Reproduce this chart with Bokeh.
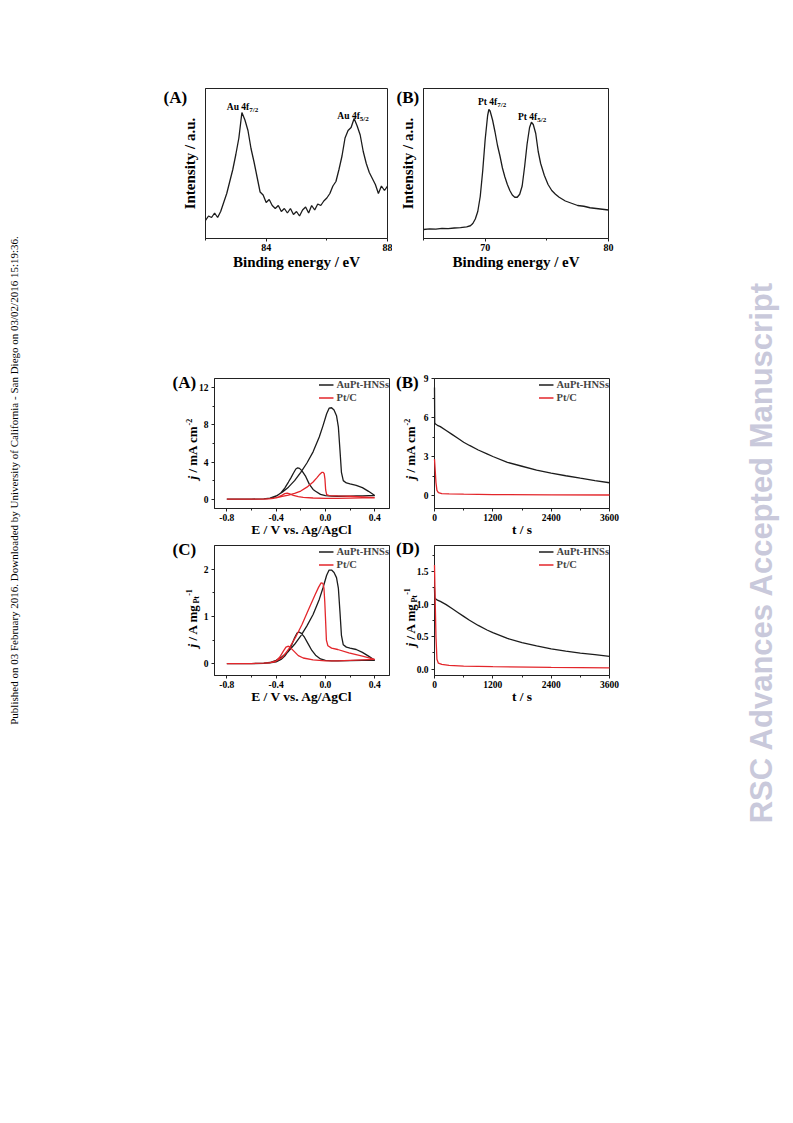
import numpy as np
from bokeh.plotting import figure
from bokeh.models import FixedTicker, Label, Legend, LegendItem, Spacer, Range1d, GridBox
from bokeh.layouts import row, column
from bokeh.embed import file_html
from bokeh.resources import INLINE

# ---------------- data ----------------
# XPS Au 4f (binding energy in eV, intensity a.u.)
au_be = [round(82.0 + 0.1 * i, 1) for i in range(61)]
au_int = [12, 15, 14, 17, 14, 18, 24, 30, 38, 46,
          56, 67, 84, 79, 72, 60, 51, 41, 31, 29,
          24, 26, 22, 20, 22, 18, 20, 17, 20, 16,
          18, 15, 19, 21, 17, 22, 19, 23, 22, 25,
          27, 30, 35, 38, 46, 55, 67, 72, 74, 80,
          75, 69, 58, 50, 44, 40, 36, 30, 35, 32,
          35]
# XPS Pt 4f
pt_be = [65.0, 65.5, 66.0, 66.5, 67.0, 67.5, 68.0, 68.5, 68.8, 69.0, 69.2, 69.4, 69.6, 69.8,
         70.0, 70.2, 70.3, 70.4, 70.6, 70.8, 71.0, 71.2, 71.4, 71.6, 71.8, 72.0, 72.2, 72.4,
         72.6, 72.8, 73.0, 73.2, 73.4, 73.6, 73.75, 73.9, 74.1, 74.3, 74.5, 74.8, 75.1, 75.4,
         75.7, 76.0, 76.5, 77.0, 77.5, 78.0, 78.5, 79.0, 79.5, 80.0]
pt_int = [6.0, 6.4, 6.2, 6.8, 6.6, 7.0, 7.3, 7.8, 8.5, 10.0, 13.0, 18.0, 28.0, 45.0,
          66.0, 82.0, 86.0, 85.0, 79.0, 71.0, 62.0, 55.0, 47.0, 41.0, 36.0, 32.0, 29.0, 27.5,
          27.5, 29.5, 35.0, 48.0, 63.0, 74.0, 77.5, 76.0, 70.0, 58.0, 50.0, 42.0, 36.0, 32.0,
          29.5, 27.5, 25.0, 23.5, 22.0, 21.5, 20.5, 20.0, 19.5, 19.0]

# CV, current density (mA cm-2)
cva_au_fwd_e = [-0.8, -0.6, -0.5, -0.45, -0.4, -0.35, -0.3, -0.25, -0.2, -0.15, -0.1, -0.05, -0.02,
                0.01, 0.03, 0.05, 0.07, 0.09, 0.105, 0.118, 0.13, 0.145, 0.17, 0.2, 0.25, 0.3, 0.35, 0.4]
cva_au_fwd_j = [0.0, 0.01, 0.04, 0.12, 0.35, 0.75, 1.3, 2.0, 2.9, 3.9, 5.1, 6.7, 7.9,
                9.2, 9.8, 9.85, 9.6, 9.0, 7.8, 5.3, 2.9, 2.0, 1.75, 1.65, 1.5, 1.25, 0.85, 0.4]
cva_au_rev_e = [0.4, 0.35, 0.3, 0.25, 0.2, 0.15, 0.1, 0.05, 0.0, -0.04, -0.08, -0.1, -0.13, -0.16,
                -0.19, -0.21, -0.225, -0.24, -0.26, -0.28, -0.3, -0.33, -0.36, -0.39, -0.42, -0.46,
                -0.5, -0.6, -0.8]
cva_au_rev_j = [0.4, 0.38, 0.36, 0.35, 0.33, 0.32, 0.32, 0.34, 0.38, 0.52, 0.85, 1.05, 1.6, 2.45,
                3.05, 3.32, 3.38, 3.25, 2.8, 2.3, 1.85, 1.2, 0.7, 0.4, 0.2, 0.08, 0.03, 0.01, 0.0]
cva_pt_fwd_e = [-0.8, -0.6, -0.5, -0.45, -0.4, -0.35, -0.3, -0.25, -0.2, -0.15, -0.1, -0.07, -0.045,
                -0.03, -0.018, -0.01, -0.004, 0.002, 0.01, 0.03, 0.1, 0.2, 0.3, 0.4]
cva_pt_fwd_j = [0.0, 0.01, 0.02, 0.06, 0.15, 0.3, 0.45, 0.62, 0.88, 1.3, 1.85, 2.3, 2.7,
                2.88, 2.9, 2.75, 2.2, 1.0, 0.5, 0.38, 0.35, 0.32, 0.26, 0.16]
cva_pt_rev_e = [0.4, 0.3, 0.2, 0.1, 0.0, -0.1, -0.18, -0.22, -0.26, -0.29, -0.31, -0.33, -0.35,
                -0.38, -0.42, -0.46, -0.5, -0.6, -0.8]
cva_pt_rev_j = [0.16, 0.14, 0.12, 0.1, 0.1, 0.13, 0.2, 0.28, 0.42, 0.58, 0.65, 0.6, 0.45,
                0.25, 0.1, 0.04, 0.02, 0.01, 0.0]

# CV, mass activity (A mg_Pt-1)
cvc_au_fwd_e = [-0.8, -0.6, -0.5, -0.45, -0.4, -0.35, -0.3, -0.25, -0.2, -0.15, -0.1, -0.05, -0.02,
                0.01, 0.03, 0.05, 0.07, 0.09, 0.105, 0.118, 0.13, 0.145, 0.17, 0.2, 0.25, 0.3, 0.35, 0.4]
cvc_au_fwd_j = [0.0, 0.003, 0.01, 0.025, 0.07, 0.15, 0.26, 0.41, 0.59, 0.8, 1.04, 1.36, 1.6,
                1.87, 1.98, 1.98, 1.93, 1.82, 1.6, 1.1, 0.6, 0.4, 0.35, 0.33, 0.3, 0.24, 0.16, 0.07]
cvc_au_rev_e = [0.4, 0.3, 0.2, 0.1, 0.05, 0.0, -0.04, -0.08, -0.11, -0.14, -0.17, -0.195, -0.215,
                -0.23, -0.25, -0.27, -0.3, -0.33, -0.36, -0.4, -0.45, -0.5, -0.6, -0.8]
cvc_au_rev_j = [0.07, 0.07, 0.065, 0.06, 0.06, 0.07, 0.1, 0.18, 0.28, 0.42, 0.56, 0.64, 0.67,
                0.65, 0.55, 0.42, 0.27, 0.16, 0.09, 0.04, 0.015, 0.005, 0.002, 0.0]
cvc_pt_fwd_e = [-0.8, -0.6, -0.5, -0.45, -0.41, -0.35, -0.3, -0.244, -0.19, -0.136, -0.082, -0.055,
                -0.035, -0.02, -0.012, -0.005, 0.0, 0.008, 0.02, 0.05, 0.1, 0.19, 0.3, 0.4]
cvc_pt_fwd_j = [0.0, 0.003, 0.01, 0.02, 0.04, 0.13, 0.3, 0.55, 0.83, 1.15, 1.47, 1.62,
                1.71, 1.7, 1.6, 1.3, 1.0, 0.5, 0.38, 0.33, 0.3, 0.23, 0.16, 0.09]
cvc_pt_rev_e = [0.4, 0.3, 0.2, 0.1, 0.0, -0.1, -0.18, -0.22, -0.25, -0.28, -0.3, -0.32, -0.34,
                -0.37, -0.4, -0.45, -0.5, -0.6, -0.8]
cvc_pt_rev_j = [0.09, 0.08, 0.07, 0.06, 0.06, 0.08, 0.12, 0.17, 0.25, 0.33, 0.37, 0.35, 0.27,
                0.14, 0.06, 0.02, 0.01, 0.003, 0.0]

# Chronoamperometry (t in s)
ca_au_t = [0, 5, 20, 60, 120, 240, 360, 480, 600, 720, 900, 1080, 1200, 1500, 1800, 2100, 2400,
           2700, 3000, 3300, 3600]
cab_au_j = [8.3, 5.6, 5.5, 5.4, 5.3, 5.0, 4.7, 4.4, 4.1, 3.85, 3.5, 3.2, 3.0, 2.55, 2.25, 1.95,
            1.72, 1.52, 1.33, 1.15, 0.98]
cad_au_j = [1.25, 1.1, 1.08, 1.06, 1.04, 0.99, 0.93, 0.87, 0.81, 0.75, 0.67, 0.6, 0.56, 0.47,
            0.405, 0.355, 0.31, 0.275, 0.245, 0.22, 0.195]
ca_pt_t = [0, 10, 30, 50, 80, 150, 300, 600, 1200, 2400, 3600]
cab_pt_j = [2.8, 2.2, 1.0, 0.4, 0.22, 0.15, 0.12, 0.1, 0.07, 0.05, 0.04]
cad_pt_j = [1.6, 1.2, 0.5, 0.15, 0.09, 0.07, 0.055, 0.045, 0.035, 0.025, 0.018]

series_names = ["AuPt-HNSs", "Pt/C"]

# ---------------- styling ----------------
SERIF = "Liberation Serif"
SANS = "Liberation Sans"
BLACK = "#1c1c1c"
RED = "#e3262b"
FRAME = "#222222"
LW = 1.3


def panel(fw, fh, bl, br, bt, bb, xr, yr):
    p = figure(frame_width=fw, frame_height=fh, min_border_left=bl, min_border_right=br,
               min_border_top=bt, min_border_bottom=bb, x_range=Range1d(*xr), y_range=Range1d(*yr),
               output_backend="svg", toolbar_location=None)
    p.xgrid.visible = False
    p.ygrid.visible = False
    p.outline_line_color = FRAME
    p.outline_line_width = 1
    p.outline_line_alpha = 1
    p.border_fill_color = "white"
    p.background_fill_color = "white"
    for ax in p.axis:
        ax.axis_line_color = FRAME
        ax.axis_line_width = 1
        ax.major_tick_line_color = FRAME
        ax.minor_tick_line_color = FRAME
        ax.major_tick_in = 0
        ax.major_tick_out = 3
        ax.minor_tick_in = 0
        ax.minor_tick_out = 2
        ax.major_label_text_font = SERIF
        ax.major_label_text_font_style = "bold"
        ax.major_label_text_color = "black"
        ax.axis_label_text_font = SERIF
        ax.axis_label_text_font_style = "bold"
        ax.axis_label_text_color = "black"
    return p


def put_in(p, fr, px, py, text, size, style="bold", align="left", baseline="middle"):
    """label inside a plot frame; fr = (frame left, frame bottom) in page pixels"""
    fl, fb = fr
    p.add_layout(Label(x=px - fl, y=fb - py, x_units="screen", y_units="screen", text=text,
                       text_font=SERIF, text_font_size=f"{size}px", text_font_style=style,
                       text_align=align, text_baseline=baseline, text_color="black"))


def add_legend(p, rb, rr):
    lg = Legend(items=[LegendItem(label=series_names[0], renderers=[rb]),
                       LegendItem(label=series_names[1], renderers=[rr])],
                location="top_right", label_text_font=SERIF, label_text_font_style="bold",
                label_text_font_size="10.5px", glyph_width=15, glyph_height=13, label_height=13,
                label_standoff=3, spacing=0, padding=2, margin=0,
                border_line_color=None, background_fill_alpha=0)
    p.add_layout(lg)


def xps_axes(p, ticks, minor, xlabel):
    p.xaxis.ticker = FixedTicker(ticks=ticks, minor_ticks=minor)
    p.xaxis.major_label_text_font_size = "10px"
    p.xaxis.major_label_standoff = 2
    p.xaxis.axis_label = xlabel
    p.xaxis.axis_label_text_font_size = "15px"
    p.xaxis.axis_label_standoff = 0
    p.yaxis.ticker = FixedTicker(ticks=[])
    p.yaxis.major_tick_out = 0
    p.yaxis.axis_label = "Intensity / a.u."
    p.yaxis.axis_label_text_font_size = "15px"
    p.yaxis.axis_label_standoff = 8


# ---------------- XPS (A) ----------------
FR_XA = (205, 238)
xa = panel(182, 150, 45, 5, 10, 37, (82, 88), (0, 100))
xps_axes(xa, [84, 88], [82, 86], "Binding energy / eV")
xa.line(au_be, au_int, line_color=BLACK, line_width=LW)
put_in(xa, FR_XA, 248.7, 106.7, "Au 4f", 9.5, align="right")
put_in(xa, FR_XA, 248.7, 109.7, "7/2", 7)
put_in(xa, FR_XA, 359.3, 115, "Au 4f", 9.5, align="right")
put_in(xa, FR_XA, 359.3, 118, "5/2", 7)

# ---------------- XPS (B) ----------------
FR_XB = (423, 238)
xb = panel(185, 150, 31, 22, 10, 37, (65, 80), (0, 100))
xps_axes(xb, [70, 80], [65, 75], "Binding energy / eV")
xb.line(pt_be, pt_int, line_color=BLACK, line_width=LW)
put_in(xb, FR_XB, 496.7, 101.7, "Pt 4f", 9.5, align="right")
put_in(xb, FR_XB, 496.7, 104.7, "7/2", 7)
put_in(xb, FR_XB, 536.7, 116.5, "Pt 4f", 9.5, align="right")
put_in(xb, FR_XB, 536.7, 119.5, "5/2", 7)


def bottom_axes(p, xt, xm, yt, ym, xlabel, xover=None, yover=None):
    p.xaxis.ticker = FixedTicker(ticks=xt, minor_ticks=xm)
    p.yaxis.ticker = FixedTicker(ticks=yt, minor_ticks=ym)
    if xover:
        p.xaxis.major_label_overrides = xover
    if yover:
        p.yaxis.major_label_overrides = yover
    for ax in p.axis:
        ax.major_label_text_font_size = "9.5px"
    p.xaxis.major_label_standoff = 2
    p.yaxis.major_label_standoff = 3
    p.xaxis.axis_label = xlabel
    p.xaxis.axis_label_text_font_size = "13.5px"
    p.xaxis.axis_label_standoff = -2


E_TICKS = [-0.8, -0.4, 0.0, 0.4]
E_MINOR = [-0.6, -0.2, 0.2]
E_OVER = {-0.8: "-0.8", -0.4: "-0.4", 0: "0.0", 0.4: "0.4"}
T_TICKS = [0, 1200, 2400, 3600]
T_MINOR = [600, 1800, 3000]
E_LABEL = "E / V vs. Ag/AgCl"
T_LABEL = "t / s"

# ---------------- CV (A) ----------------
pa = panel(175, 130, 54, 6, 10, 32, (-0.9, 0.52), (-1, 13))
bottom_axes(pa, E_TICKS, E_MINOR, [0, 4, 8, 12], [2, 6, 10], E_LABEL, xover=E_OVER)
ra_b = pa.line(cva_au_fwd_e + cva_au_rev_e, cva_au_fwd_j + cva_au_rev_j, line_color=BLACK, line_width=LW)
ra_r = pa.line(cva_pt_fwd_e + cva_pt_rev_e, cva_pt_fwd_j + cva_pt_rev_j, line_color=RED, line_width=LW)
add_legend(pa, ra_b, ra_r)

# ---------------- CA (B) ----------------
pb = panel(175, 130, 39, 21, 10, 32, (0, 3600), (-1, 9))
bottom_axes(pb, T_TICKS, T_MINOR, [0, 3, 6, 9], [1.5, 4.5, 7.5], T_LABEL)
rb_b = pb.line(ca_au_t, cab_au_j, line_color=BLACK, line_width=LW, level="overlay")
rb_r = pb.line(ca_pt_t, cab_pt_j, line_color=RED, line_width=LW, level="overlay")
add_legend(pb, rb_b, rb_r)

# ---------------- CV (C) ----------------
pc = panel(175, 130, 54, 6, 5, 35, (-0.9, 0.52), (-0.25, 2.5))
bottom_axes(pc, E_TICKS, E_MINOR, [0, 1, 2], [0.5, 1.5], E_LABEL, xover=E_OVER)
rc_b = pc.line(cvc_au_fwd_e + cvc_au_rev_e, cvc_au_fwd_j + cvc_au_rev_j, line_color=BLACK, line_width=LW)
rc_r = pc.line(cvc_pt_fwd_e + cvc_pt_rev_e, cvc_pt_fwd_j + cvc_pt_rev_j, line_color=RED, line_width=LW)
add_legend(pc, rc_b, rc_r)

# ---------------- CA (D) ----------------
pd_ = panel(175, 130, 39, 21, 5, 35, (0, 3600), (-0.1, 1.9))
bottom_axes(pd_, T_TICKS, T_MINOR, [0, 0.5, 1.0, 1.5], [0.25, 0.75, 1.25, 1.75], T_LABEL,
            yover={0: "0.0", 0.5: "0.5", 1: "1.0", 1.5: "1.5"})
rd_b = pd_.line(ca_au_t, cad_au_j, line_color=BLACK, line_width=LW, level="overlay")
rd_r = pd_.line(ca_pt_t, cad_pt_j, line_color=RED, line_width=LW, level="overlay")
add_legend(pd_, rd_b, rd_r)

# ---------------- transparent overlay for texts outside the plot frames ----------------
OV_W, OV_H = 793, 900
ov = figure(width=OV_W, height=OV_H, x_range=Range1d(0, 1), y_range=Range1d(0, 1),
            x_axis_type=None, y_axis_type=None, min_border=0,
            output_backend="svg", toolbar_location=None)
ov.outline_line_color = None
ov.background_fill_color = None
ov.border_fill_color = None


def put(px, py, text, size, style="bold", font=SERIF, align="left", baseline="middle",
        angle=0.0, color="black"):
    ov.add_layout(Label(x=px, y=OV_H - py, x_units="screen", y_units="screen", text=text,
                        text_font=font, text_font_size=f"{size}px", text_font_style=style,
                        text_align=align, text_baseline=baseline, angle=angle, text_color=color))


def ylabel(cx, y_start, pieces):
    """rotated label built from pieces (text, size, style, raise, advance); cx = centre line"""
    y = y_start
    for text, size, style, shift, w in pieces:
        put(cx - shift, y, text, size, style=style, baseline="middle", angle=np.pi / 2)
        y -= w


CM2 = [("j", 13, "bold italic", 0, 6.9), ("/ mA cm", 13, "bold", 0, 47.2), ("-2", 8, "bold", 3, 6.7)]
MGPT = [("j", 13, "bold italic", 0, 6.9), ("/ A mg", 13, "bold", 0, 37.0),
        ("Pt", 8, "bold", -4, 7.8), ("-1", 8, "bold", 3, 6.7)]

put(163, 97, "(A)", 17)
put(396, 97, "(B)", 17)
put(172, 381.5, "(A)", 17)
put(395.5, 381.5, "(B)", 17)
put(172, 548.5, "(C)", 17)
put(395.5, 548, "(D)", 17)
ylabel(191.5, 479, CM2)
ylabel(409.5, 479, CM2)
ylabel(191.5, 647, MGPT)
ylabel(409.5, 646, MGPT)

put(13, 480, "Published on 03 February 2016. Downloaded by University of California - San Diego on 03/02/2016 15:19:36.",
    11, style="normal", align="center", angle=np.pi / 2)
put(761, 551.5, "RSC Advances Accepted Manuscript", 31, font=SANS, align="center",
    baseline="middle", angle=np.pi / 2, color="#c9c9db")

main = column(
    Spacer(width=630, height=78),
    row(Spacer(width=160, height=197), xa, xb),
    Spacer(width=630, height=93),
    row(Spacer(width=160, height=172), pa, pb),
    row(Spacer(width=160, height=170), pc, pd_),
)
page = GridBox(children=[(main, 0, 0), (ov, 0, 0)])

open("out.html", "w").write(file_html(page, INLINE))
